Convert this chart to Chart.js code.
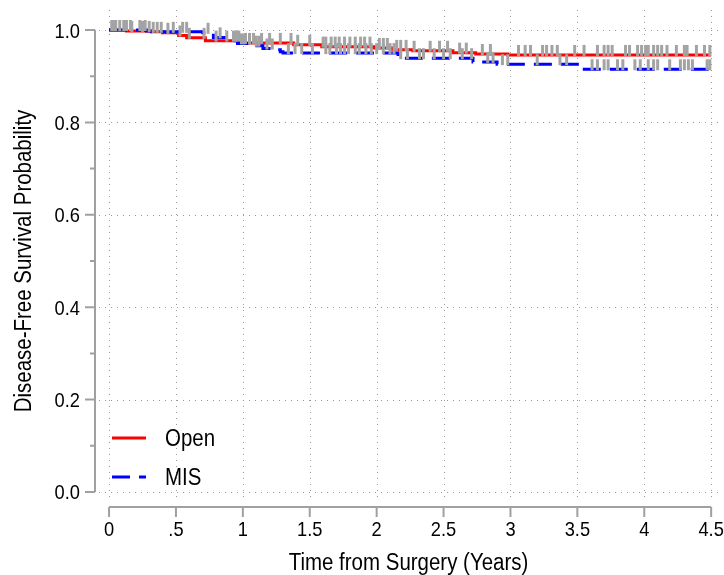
<!DOCTYPE html>
<html>
<head>
<meta charset="utf-8">
<script src="https://cdn.jsdelivr.net/npm/chart.js@4.4.0/dist/chart.umd.min.js"></script>
<style>
  html, body { margin: 0; padding: 0; background: #fff; }
</style>
</head>
<body>
<canvas id="km" width="724" height="575"></canvas>
<script>
// Kaplan-Meier step points (time in years, survival after the step)
const openTimes = [0, 0.13, 0.32, 0.40, 0.52, 0.58, 0.72, 0.99, 1.38, 1.59, 1.98, 2.12, 2.27, 2.57, 2.74, 2.98];
const openSurv  = [1.0, 0.998, 0.996, 0.994, 0.988, 0.983, 0.977, 0.972, 0.968, 0.964, 0.961, 0.957, 0.955, 0.951, 0.948, 0.946];
const misTimes  = [0, 0.28, 0.32, 0.70, 0.78, 0.89, 0.96, 1.07, 1.15, 1.24, 1.28, 1.30, 2.16, 2.72, 2.90, 3.54];
const misSurv   = [1.0, 0.998, 0.996, 0.994, 0.984, 0.977, 0.971, 0.966, 0.960, 0.957, 0.953, 0.950, 0.939, 0.931, 0.926, 0.915];
const endTime = 4.5;

// censoring times
const openCensored = [0.02, 0.05, 0.11, 0.17, 0.25, 0.30, 0.36, 0.44, 0.53, 0.60, 0.71, 0.80, 0.88, 0.95, 0.97, 1.02,
  1.05, 1.08, 1.14, 1.20, 1.28, 1.36, 1.41, 1.50, 1.60, 1.62, 1.66, 1.69, 1.72, 1.76, 1.80, 1.84, 1.88, 1.91, 1.95,
  2.02, 2.05, 2.08, 2.15, 2.18, 2.22, 2.28, 2.40, 2.47, 2.53, 2.62, 2.67, 2.79, 2.85, 3.06, 3.11, 3.15, 3.24, 3.27,
  3.31, 3.35, 3.48, 3.55, 3.65, 3.70, 3.73, 3.76, 3.86, 3.89, 3.95, 3.98, 4.01, 4.03, 4.07, 4.10, 4.13, 4.17, 4.24,
  4.30, 4.32, 4.39, 4.45, 4.49];
const misCensored = [0.04, 0.08, 0.13, 0.16, 0.23, 0.27, 0.33, 0.39, 0.48, 0.55, 0.58, 0.74, 0.83, 0.93, 0.95, 0.99,
  1.01, 1.05, 1.10, 1.12, 1.18, 1.22, 1.34, 1.39, 1.44, 1.52, 1.62, 1.65, 1.70, 1.73, 1.76, 1.79, 1.84, 1.87, 1.92,
  1.96, 2.00, 2.05, 2.10, 2.13, 2.18, 2.23, 2.32, 2.35, 2.43, 2.50, 2.55, 2.64, 2.71, 2.83, 2.87, 2.94, 2.98, 3.20,
  3.37, 3.42, 3.61, 3.65, 3.70, 3.73, 3.80, 3.84, 3.93, 3.97, 4.03, 4.07, 4.10, 4.19, 4.27, 4.30, 4.33, 4.36, 4.47,
  4.49];

const xTicks = [0, 0.5, 1, 1.5, 2, 2.5, 3, 3.5, 4, 4.5];
const xTickLabels = ['0', '.5', '1', '1.5', '2', '2.5', '3', '3.5', '4', '4.5'];
const yTicks = [0, 0.2, 0.4, 0.6, 0.8, 1.0];
const yTickLabels = ['0.0', '0.2', '0.4', '0.6', '0.8', '1.0'];
const yMinorTicks = [0.1, 0.3, 0.5, 0.7, 0.9];
const xTitle = 'Time from Surgery (Years)';
const yTitle = 'Disease-Free Survival Probability';

const FONT = "'Liberation Sans', Arial, sans-serif";
const AXIS_GREY = '#a0a0a0';
const INK = '#000';

function stepPoints(times, surv) {
  const pts = times.map((t, i) => ({x: t, y: surv[i]}));
  pts.push({x: endTime, y: surv[surv.length - 1]});
  return pts;
}
function survAt(times, surv, t) {
  let s = surv[0];
  for (let i = 0; i < times.length; i++) if (times[i] <= t) s = surv[i];
  return s;
}
function censorPoints(cens, times, surv) {
  return cens.map(t => ({x: t, y: survAt(times, surv, t)}));
}

// narrow-looking text: regular face squeezed horizontally
function narrowText(ctx, text, x, y, size, squeeze, align, rotate) {
  ctx.save();
  ctx.translate(x, y);
  if (rotate) ctx.rotate(-Math.PI / 2);
  ctx.scale(squeeze, 1);
  ctx.font = size + 'px ' + FONT;
  ctx.fillStyle = INK;
  ctx.textAlign = align;
  ctx.textBaseline = 'alphabetic';
  ctx.fillText(text, 0, 0);
  ctx.restore();
}

const kmFrame = {
  id: 'kmFrame',
  beforeDatasetsDraw(chart) {
    const {ctx, chartArea: a, scales: {x, y}} = chart;
    ctx.save();
    // dotted grid
    ctx.strokeStyle = '#9a9a9a';
    ctx.lineWidth = 1;
    ctx.setLineDash([1, 5]);
    xTicks.forEach(v => {
      const px = Math.round(x.getPixelForValue(v)) + 0.5;
      ctx.beginPath(); ctx.moveTo(px, a.top); ctx.lineTo(px, a.bottom - 6); ctx.stroke();
    });
    yTicks.forEach(v => {
      const py = Math.round(y.getPixelForValue(v)) + 0.5;
      ctx.beginPath(); ctx.moveTo(a.left + 4, py); ctx.lineTo(a.right, py); ctx.stroke();
    });
    ctx.setLineDash([]);
    // axes
    ctx.strokeStyle = AXIS_GREY;
    ctx.lineWidth = 2;
    ctx.beginPath();
    ctx.moveTo(a.left, y.getPixelForValue(0)); ctx.lineTo(a.left, y.getPixelForValue(1));
    ctx.moveTo(x.getPixelForValue(0), a.bottom); ctx.lineTo(x.getPixelForValue(endTime), a.bottom);
    yTicks.forEach(v => { const py = y.getPixelForValue(v); ctx.moveTo(a.left, py); ctx.lineTo(a.left - 10, py); });
    yMinorTicks.forEach(v => { const py = y.getPixelForValue(v); ctx.moveTo(a.left, py); ctx.lineTo(a.left - 5, py); });
    xTicks.forEach(v => { const px = x.getPixelForValue(v); ctx.moveTo(px, a.bottom); ctx.lineTo(px, a.bottom + 10); });
    ctx.stroke();
    ctx.restore();
  },
  afterDatasetsDraw(chart) {
    const {ctx, chartArea: a, scales: {x, y}} = chart;
    ctx.save();
    // censoring ticks, drawn upward from each curve
    ctx.strokeStyle = '#a3a3a3';
    ctx.lineWidth = 3;
    chart.data.datasets.forEach((ds, i) => {
      if (!ds.censor) return;
      chart.getDatasetMeta(i).data.forEach(p => {
        ctx.beginPath(); ctx.moveTo(p.x, p.y + 1); ctx.lineTo(p.x, p.y - 10); ctx.stroke();
      });
    });
    // legend
    const items = chart.data.datasets.filter(ds => !ds.censor);
    const rows = [a.bottom - 69, a.bottom - 30];
    items.sort((p, q) => p.legendRow - q.legendRow).forEach((ds, k) => {
      const ly = rows[k];
      ctx.strokeStyle = ds.borderColor;
      ctx.lineWidth = ds.borderWidth;
      ctx.setLineDash(ds.borderDash || []);
      ctx.beginPath(); ctx.moveTo(a.left + 17, ly); ctx.lineTo(a.left + 51, ly); ctx.stroke();
      ctx.setLineDash([]);
      narrowText(ctx, ds.label, a.left + 70, ly + 8, 23, 0.89, 'left', false);
    });
    // tick labels
    xTicks.forEach((v, i) => narrowText(ctx, xTickLabels[i], x.getPixelForValue(v), a.bottom + 29, 21, 0.87, 'center', false));
    yTicks.forEach((v, i) => narrowText(ctx, yTickLabels[i], a.left - 15, y.getPixelForValue(v) + 7.5, 21, 0.87, 'right', false));
    // axis titles
    narrowText(ctx, xTitle, (a.left + a.right) / 2, 570, 23, 0.89, 'center', false);
    narrowText(ctx, yTitle, 31, (y.getPixelForValue(0) + y.getPixelForValue(1)) / 2, 23, 0.89, 'center', true);
    ctx.restore();
  }
};

new Chart(document.getElementById('km'), {
  type: 'line',
  data: {
    datasets: [
      {
        label: 'MIS',
        data: stepPoints(misTimes, misSurv),
        stepped: 'before',
        borderColor: '#0000ff',
        borderWidth: 3,
        borderDash: [18, 9],
        pointRadius: 0,
        fill: false,
        order: 1,
        legendRow: 1
      },
      {
        label: 'Open',
        data: stepPoints(openTimes, openSurv),
        stepped: 'before',
        borderColor: '#ff0000',
        borderWidth: 3,
        pointRadius: 0,
        fill: false,
        order: 2,
        legendRow: 0
      },
      {
        label: 'Open censored',
        type: 'scatter',
        censor: true,
        data: censorPoints(openCensored, openTimes, openSurv),
        pointRadius: 0,
        order: 0
      },
      {
        label: 'MIS censored',
        type: 'scatter',
        censor: true,
        data: censorPoints(misCensored, misTimes, misSurv),
        pointRadius: 0,
        order: 0
      }
    ]
  },
  options: {
    responsive: false,
    animation: false,
    events: [],
    layout: { padding: { top: 10, right: 2, left: 0, bottom: 0 } },
    plugins: { legend: { display: false }, tooltip: { enabled: false } },
    scales: {
      x: {
        type: 'linear',
        min: -0.105,
        max: 4.581,
        grid: { display: false, drawTicks: false },
        border: { display: false },
        ticks: { display: false },
        afterFit: s => { s.height = 68; }
      },
      y: {
        type: 'linear',
        min: -0.0325,
        max: 1.0433,
        grid: { display: false, drawTicks: false },
        border: { display: false },
        ticks: { display: false },
        afterFit: s => { s.width = 95; }
      }
    }
  },
  plugins: [kmFrame]
});
</script>
</body>
</html>
